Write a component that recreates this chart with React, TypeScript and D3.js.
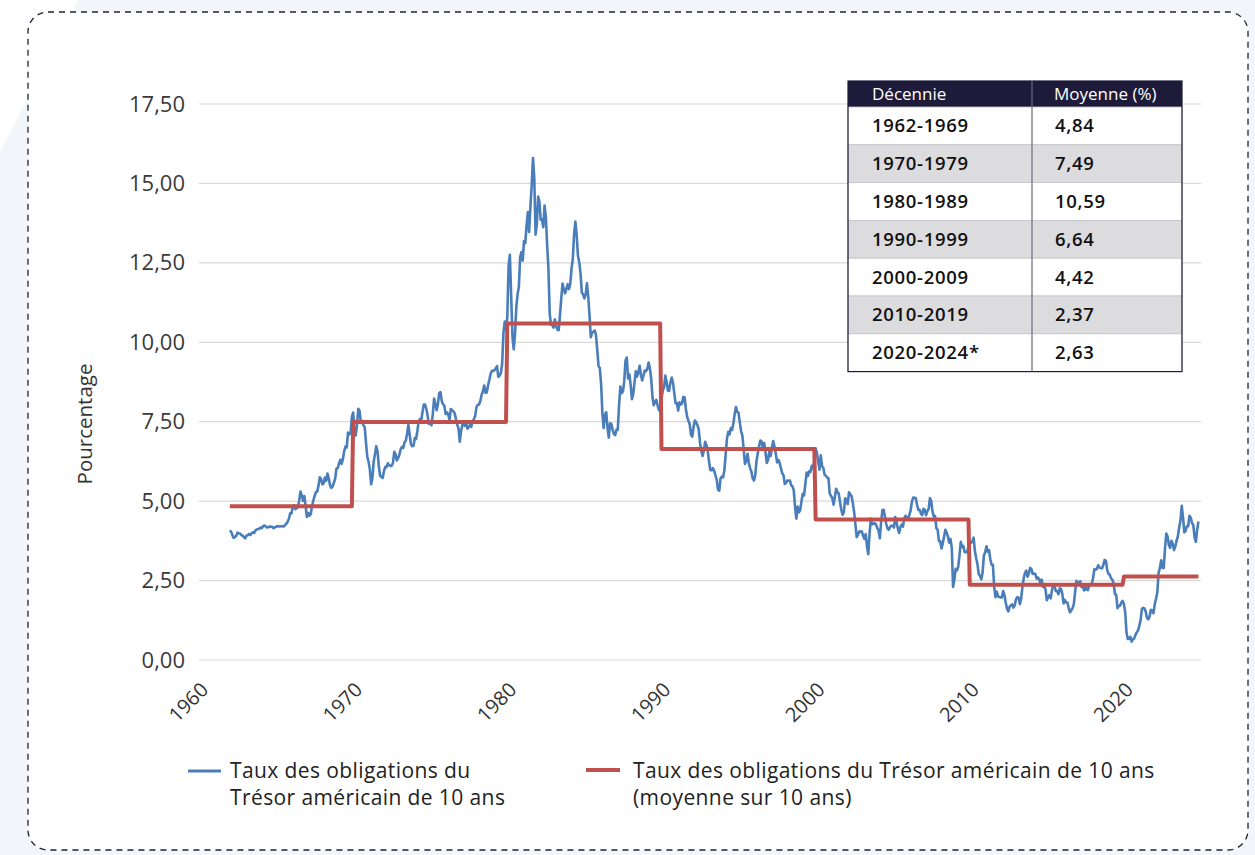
import * as d3 from "d3";
import { useEffect, useRef } from "react";

// taux mensuels du Trésor 10 ans
const startYear = 1962;
const rates1960s = [
  4.08, 4.04, 3.93, 3.84, 3.87, 3.91, 4.01, 3.98, 3.98, 3.93, 3.92, 3.86,
  3.83, 3.92, 3.93, 3.97, 3.93, 3.99, 4.02, 4.0, 4.08, 4.11, 4.12, 4.13,
  4.17, 4.15, 4.22, 4.23, 4.2, 4.17, 4.19, 4.19, 4.2, 4.19, 4.15, 4.18,
  4.19, 4.21, 4.21, 4.2, 4.21, 4.21, 4.2, 4.25, 4.29, 4.35, 4.45, 4.62,
  4.61, 4.83, 4.87, 4.75, 4.78, 4.81, 5.02, 5.3, 5.18, 5.01, 5.16, 4.84,
  4.5, 4.63, 4.54, 4.59, 4.85, 5.02, 5.16, 5.28, 5.3, 5.48, 5.75, 5.7,
  5.53, 5.56, 5.74, 5.64, 5.87, 5.72, 5.5, 5.42, 5.46, 5.58, 5.7, 6.03,
  6.04, 6.19, 6.3, 6.17, 6.32, 6.57, 6.72, 6.69, 7.16, 7.1, 7.14, 7.65,
];
const rates1970s = [
  7.79, 7.24, 7.07, 7.39, 7.91, 7.84, 7.46, 7.53, 7.39, 7.33, 6.84, 6.39,
  6.24, 6.0, 5.53, 5.73, 6.25, 6.48, 6.73, 6.56, 6.09, 5.8, 5.76, 5.73,
  5.95, 6.08, 6.07, 6.19, 6.13, 6.11, 6.11, 6.21, 6.55, 6.48, 6.28, 6.36,
  6.46, 6.64, 6.71, 6.67, 6.85, 6.9, 7.13, 7.4, 7.09, 6.79, 6.73, 6.74,
  6.99, 6.96, 7.21, 7.51, 7.58, 7.54, 7.81, 8.04, 8.04, 7.9, 7.68, 7.43,
  7.5, 7.39, 7.73, 8.23, 8.06, 7.86, 8.06, 8.4, 8.43, 8.14, 8.05, 8.0,
  7.74, 7.79, 7.73, 7.56, 7.9, 7.86, 7.83, 7.77, 7.59, 7.41, 7.29, 6.87,
  7.21, 7.39, 7.46, 7.37, 7.46, 7.28, 7.33, 7.4, 7.34, 7.52, 7.58, 7.69,
  7.96, 8.03, 8.04, 8.15, 8.35, 8.46, 8.64, 8.41, 8.42, 8.64, 8.81, 9.01,
  9.1, 9.1, 9.12, 9.18, 9.25, 8.91, 8.95, 9.03, 9.33, 10.3, 10.65, 10.39,
];
const rates1980s = [
  10.8, 12.41, 12.75, 11.47, 10.18, 9.78, 10.25, 11.1, 11.51, 11.75, 12.68, 12.84,
  12.57, 13.19, 13.12, 13.68, 14.1, 13.47, 14.28, 14.94, 15.8, 15.15, 13.39, 13.72,
  14.59, 14.43, 13.86, 13.87, 13.62, 14.3, 13.95, 13.06, 12.34, 10.91, 10.55, 10.54,
  10.46, 10.72, 10.51, 10.4, 10.38, 10.85, 11.38, 11.85, 11.65, 11.54, 11.69, 11.83,
  11.67, 11.84, 12.32, 12.63, 13.41, 13.8, 13.36, 12.72, 12.52, 12.16, 11.57, 11.5,
  11.38, 11.51, 11.86, 11.43, 10.85, 10.16, 10.31, 10.33, 10.37, 10.24, 9.78, 9.26,
  9.19, 8.7, 7.78, 7.3, 7.71, 7.8, 7.3, 7.0, 7.45, 7.43, 7.25, 7.11,
  7.08, 7.25, 7.25, 8.02, 8.61, 8.4, 8.45, 8.76, 9.42, 9.52, 8.86, 8.99,
  8.67, 8.21, 8.37, 8.72, 9.09, 8.92, 9.06, 9.26, 8.98, 8.8, 8.96, 9.11,
  9.09, 9.17, 9.36, 9.18, 8.86, 8.28, 8.02, 8.11, 8.19, 8.01, 7.87, 7.84,
];
const rates1990s = [
  8.21, 8.47, 8.59, 8.95, 8.76, 8.48, 8.47, 8.75, 8.89, 8.72, 8.39, 8.08,
  8.09, 7.85, 8.11, 8.04, 8.07, 8.28, 8.27, 7.9, 7.65, 7.53, 7.42, 7.09,
  7.03, 7.34, 7.54, 7.48, 7.39, 7.26, 6.84, 6.59, 6.42, 6.59, 6.87, 6.77,
  6.6, 6.26, 5.98, 5.97, 6.04, 5.96, 5.81, 5.68, 5.36, 5.33, 5.72, 5.77,
  5.75, 5.97, 6.48, 6.97, 7.18, 7.1, 7.3, 7.24, 7.46, 7.74, 7.96, 7.81,
  7.78, 7.47, 7.2, 7.06, 6.63, 6.17, 6.28, 6.49, 6.2, 6.04, 5.93, 5.71,
  5.65, 5.81, 6.27, 6.51, 6.74, 6.91, 6.87, 6.64, 6.83, 6.53, 6.2, 6.3,
  6.58, 6.42, 6.69, 6.89, 6.71, 6.49, 6.22, 6.3, 6.21, 6.03, 5.88, 5.81,
  5.54, 5.57, 5.65, 5.64, 5.65, 5.5, 5.46, 5.34, 4.81, 4.45, 4.83, 4.65,
  4.72, 5.0, 5.23, 5.18, 5.54, 5.9, 5.79, 5.94, 5.92, 6.11, 6.03, 6.28,
];
const rates2000s = [
  6.66, 6.52, 6.26, 5.99, 6.44, 6.1, 6.05, 5.83, 5.8, 5.74, 5.72, 5.24,
  5.16, 5.1, 4.89, 5.14, 5.39, 5.28, 5.24, 4.97, 4.73, 4.57, 4.65, 5.09,
  5.04, 4.91, 5.28, 5.21, 5.16, 4.93, 4.65, 4.26, 3.87, 3.94, 4.05, 4.03,
  4.05, 3.9, 3.81, 3.96, 3.57, 3.33, 3.98, 4.45, 4.27, 4.29, 4.3, 4.27,
  4.15, 4.08, 3.83, 4.35, 4.72, 4.73, 4.5, 4.28, 4.13, 4.1, 4.19, 4.23,
  4.22, 4.17, 4.5, 4.34, 4.14, 4.0, 4.18, 4.26, 4.2, 4.46, 4.54, 4.47,
  4.42, 4.57, 4.72, 4.99, 5.11, 5.11, 5.09, 4.88, 4.72, 4.73, 4.6, 4.56,
  4.76, 4.72, 4.56, 4.69, 4.75, 5.1, 5.0, 4.67, 4.52, 4.53, 4.15, 4.1,
  3.74, 3.74, 3.51, 3.68, 3.88, 4.1, 4.01, 3.89, 3.69, 3.81, 3.53, 2.3,
  2.52, 2.87, 2.82, 2.93, 3.29, 3.72, 3.56, 3.59, 3.4, 3.39, 3.4, 3.59,
];
const rates2010s = [
  3.73, 3.69, 3.73, 3.85, 3.42, 3.2, 3.01, 2.7, 2.65, 2.54, 2.76, 3.29,
  3.39, 3.58, 3.41, 3.46, 3.17, 3.0, 3.0, 2.3, 1.98, 2.15, 2.01, 1.98,
  1.97, 1.97, 2.17, 2.05, 1.8, 1.62, 1.53, 1.68, 1.72, 1.75, 1.65, 1.72,
  1.91, 1.98, 1.96, 1.76, 1.93, 2.3, 2.58, 2.74, 2.81, 2.62, 2.72, 2.9,
  2.86, 2.71, 2.72, 2.71, 2.56, 2.6, 2.54, 2.42, 2.53, 2.3, 2.33, 2.21,
  1.88, 1.98, 2.04, 1.94, 2.2, 2.36, 2.32, 2.17, 2.17, 2.07, 2.26, 2.24,
  2.09, 1.78, 1.89, 1.81, 1.81, 1.64, 1.5, 1.56, 1.63, 1.76, 2.14, 2.49,
  2.43, 2.42, 2.48, 2.3, 2.3, 2.19, 2.32, 2.21, 2.2, 2.36, 2.35, 2.4,
  2.58, 2.86, 2.84, 2.87, 2.98, 2.91, 2.89, 2.89, 3.0, 3.15, 3.12, 2.83,
  2.71, 2.68, 2.57, 2.53, 2.4, 2.07, 2.06, 1.63, 1.7, 1.71, 1.81, 1.86,
];
const rates2020s = [
  1.76, 1.5, 0.87, 0.66, 0.67, 0.73, 0.58, 0.65, 0.68, 0.79, 0.87, 0.93,
  1.08, 1.26, 1.61, 1.64, 1.62, 1.52, 1.32, 1.28, 1.37, 1.58, 1.56, 1.47,
  1.76, 1.93, 2.13, 2.75, 2.9, 3.14, 2.9, 2.9, 3.52, 3.98, 3.89, 3.62,
  3.53, 3.75, 3.66, 3.46, 3.57, 3.75, 3.9, 4.17, 4.38, 4.85, 4.5, 4.02,
  4.06, 4.21, 4.21, 4.54, 4.48, 4.31, 4.25, 3.87, 3.72, 4.1, 4.36,
];

const decades = ["1962-1969", "1970-1979", "1980-1989", "1990-1999", "2000-2009", "2010-2019", "2020-2024*"];
const decadeAvg = [4.84, 7.49, 10.59, 6.64, 4.42, 2.37, 2.63];
const yTicks = [0, 2.5, 5, 7.5, 10, 12.5, 15, 17.5];
const xTicks = [1960, 1970, 1980, 1990, 2000, 2010, 2020];
const legendBlue = ["Taux des obligations du", "Trésor américain de 10 ans"];
const legendRed = ["Taux des obligations du Trésor américain de 10 ans", "(moyenne sur 10 ans)"];

const FONT = "'Open Sans', 'Noto Sans', sans-serif";
const BLUE = "#4a7ebb";
const RED = "#c0504d";
const NAVY = "#1d1a3a";

const comma = (v: number) => d3.format(".2f")(v).replace(".", ",");

export default function App() {
  const ref = useRef<SVGSVGElement>(null);

  useEffect(() => {
    const svg = d3.select(ref.current);
    svg.selectAll("*").remove();

    // fond + cadre pointillé
    svg.append("rect").attr("width", 1255).attr("height", 855).attr("fill", "#f2f5fa");
    svg.append("polygon").attr("points", "0,0 78,0 0,152").attr("fill", "#ffffff");
    svg
      .append("rect")
      .attr("x", 28)
      .attr("y", 12)
      .attr("width", 1220)
      .attr("height", 838)
      .attr("rx", 20)
      .attr("fill", "#ffffff")
      .attr("stroke", "#1f2435")
      .attr("stroke-width", 1.3)
      .attr("stroke-dasharray", "6 5");

    const all = [...rates1960s, ...rates1970s, ...rates1980s, ...rates1990s, ...rates2000s, ...rates2010s, ...rates2020s];
    const data = all.map((v, i) => {
      const t = startYear + i / 12;
      const dec = Math.floor((Math.floor(t) - 1960) / 10);
      return { t, v, avg: decadeAvg[dec] };
    });

    const x = d3.scaleLinear().domain([1960, 2025]).range([199, 1201]);
    const y = d3.scaleLinear().domain([0, 17.5]).range([660, 104]);

    // grille
    svg
      .append("g")
      .selectAll("line")
      .data(yTicks)
      .join("line")
      .attr("x1", 199)
      .attr("x2", 1201)
      .attr("y1", (d) => y(d))
      .attr("y2", (d) => y(d))
      .attr("stroke", "#d9d9d9")
      .attr("stroke-width", 1.2);

    const yAxis = d3.axisLeft(y).tickValues(yTicks).tickSize(0).tickPadding(14).tickFormat((d) => comma(+d));
    const gy = svg.append("g").attr("transform", "translate(199,0)").call(yAxis);
    gy.select(".domain").remove();
    gy.selectAll("text").attr("font-family", FONT).attr("font-size", 22).attr("font-weight", 400).attr("fill", "#3a3a3a");

    const xAxis = d3.axisBottom(x).tickValues(xTicks).tickSize(0).tickFormat(d3.format("d"));
    const gx = svg.append("g").attr("transform", "translate(0,660)").call(xAxis);
    gx.select(".domain").remove();
    gx.selectAll("text")
      .attr("font-family", FONT)
      .attr("font-size", 20)
      .attr("font-weight", 400)
      .attr("fill", "#333")
      .attr("x", 0)
      .attr("y", 0)
      .attr("dy", 0)
      .attr("text-anchor", "end")
      .attr("transform", "translate(10,31) rotate(-45)");

    svg
      .append("text")
      .attr("transform", "translate(92,424) rotate(-90)")
      .attr("text-anchor", "middle")
      .attr("font-family", FONT)
      .attr("font-size", 20.5)
      .attr("fill", "#333")
      .text("Pourcentage");

    const line = d3
      .line<{ t: number; v: number; avg: number }>()
      .x((d) => x(d.t))
      .y((d) => y(d.v));
    const avgLine = d3
      .line<{ t: number; v: number; avg: number }>()
      .x((d) => x(d.t))
      .y((d) => y(d.avg));

    svg
      .append("path")
      .attr("d", line(data))
      .attr("fill", "none")
      .attr("stroke", BLUE)
      .attr("stroke-width", 2.6)
      .attr("stroke-linejoin", "round");
    svg
      .append("path")
      .attr("d", avgLine(data))
      .attr("fill", "none")
      .attr("stroke", RED)
      .attr("stroke-width", 4)
      .attr("stroke-linejoin", "round");

    // tableau des moyennes
    const tx = 848;
    const tw = 334;
    const colX = 1032;
    const headTop = 81;
    const headH = 26;
    const rowH = 37.8;
    const tbl = svg.append("g");
    tbl.append("rect").attr("x", tx).attr("y", headTop).attr("width", tw).attr("height", headH).attr("fill", NAVY);
    tbl
      .selectAll("rect.row")
      .data(decades)
      .join("rect")
      .attr("class", "row")
      .attr("x", tx)
      .attr("y", (_, i) => headTop + headH + i * rowH)
      .attr("width", tw)
      .attr("height", rowH)
      .attr("fill", (_, i) => (i % 2 ? "#dcdcde" : "#ffffff"))
      .attr("stroke", "#c4c4c8")
      .attr("stroke-width", 0.8);
    tbl
      .append("rect")
      .attr("x", tx)
      .attr("y", headTop)
      .attr("width", tw)
      .attr("height", headH + rowH * decades.length)
      .attr("fill", "none")
      .attr("stroke", NAVY)
      .attr("stroke-width", 1.2);
    tbl
      .append("line")
      .attr("x1", colX)
      .attr("x2", colX)
      .attr("y1", headTop)
      .attr("y2", headTop + headH + rowH * decades.length)
      .attr("stroke", "#6b6a80")
      .attr("stroke-width", 1.2);
    [["Décennie", 872], ["Moyenne (%)", 1054]].forEach(([t, px]) => {
      tbl
        .append("text")
        .attr("x", px as number)
        .attr("y", headTop + 19)
        .attr("font-family", FONT)
        .attr("font-size", 17)
        .attr("fill", "#ffffff")
        .text(t as string);
    });
    decades.forEach((d, i) => {
      const by = headTop + headH + i * rowH + rowH / 2 + 6.5;
      [
        [d, 872],
        [comma(decadeAvg[i]), 1055],
      ].forEach(([t, px]) => {
        tbl
          .append("text")
          .attr("x", px as number)
          .attr("y", by)
          .attr("font-family", FONT)
          .attr("font-weight", 600)
          .attr("font-size", 18.5)
          .attr("letter-spacing", 0.7)
          .attr("fill", "#111")
          .text(t as string);
      });
    });

    // légende
    const lg = svg.append("g").attr("font-family", FONT).attr("font-size", 21).attr("letter-spacing", 0.4).attr("fill", "#222");
    lg.append("line").attr("x1", 188).attr("x2", 221).attr("y1", 771).attr("y2", 771).attr("stroke", BLUE).attr("stroke-width", 3);
    legendBlue.forEach((t, i) => lg.append("text").attr("x", 230).attr("y", 778 + i * 27).text(t));
    lg.append("line").attr("x1", 586).attr("x2", 620).attr("y1", 770).attr("y2", 770).attr("stroke", RED).attr("stroke-width", 4);
    legendRed.forEach((t, i) => lg.append("text").attr("x", 633).attr("y", 778 + i * 27).text(t));
  }, []);

  return <svg ref={ref} width={1255} height={855} style={{ position: "fixed", left: 0, top: 0 }} />;
}
